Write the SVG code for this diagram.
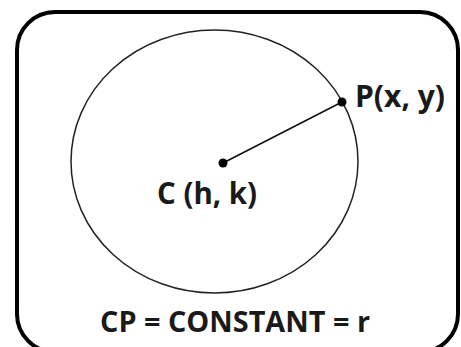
<svg xmlns="http://www.w3.org/2000/svg" width="461" height="347" viewBox="0 0 461 347">
<style>
.lbl{font-family:"Open Sans","Liberation Sans",sans-serif;font-weight:bold;fill:#1a1a1a;}
</style>
<rect width="461" height="347" fill="#ffffff"/>
<g id="frame">
<rect x="17" y="12" width="441" height="340" rx="38" ry="38" fill="none" stroke="#000" stroke-width="4"/>
</g>
<g id="circle">
<ellipse cx="214.5" cy="161.5" rx="143.5" ry="131.5" fill="none" stroke="#222" stroke-width="1.5"/>
</g>
<g id="connectors">
<line x1="223" y1="163" x2="342" y2="102" stroke="#111" stroke-width="1.6"/>
</g>
<g id="center">
<circle cx="223" cy="163" r="4.5" fill="#000"/>
<text class="lbl" x="157" y="204" font-size="30" textLength="100" lengthAdjust="spacingAndGlyphs">C (h, k)</text>
</g>
<g id="point">
<circle cx="342" cy="102" r="4.5" fill="#000"/>
<text class="lbl" x="355" y="107" font-size="30" textLength="90" lengthAdjust="spacingAndGlyphs">P(x, y)</text>
</g>
<g id="caption">
<text class="lbl" x="100" y="332" font-size="28" textLength="270" lengthAdjust="spacingAndGlyphs">CP = CONSTANT = r</text>
</g>
</svg>
